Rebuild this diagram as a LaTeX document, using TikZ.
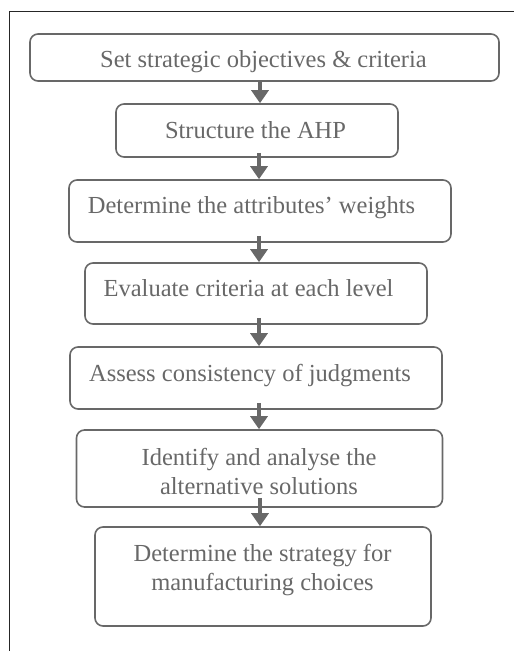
\documentclass[tikz,border=0pt]{standalone}
\usepackage{fontspec}
\setmainfont{Liberation Serif}
\usetikzlibrary{arrows.meta}
\definecolor{stepgray}{RGB}{104,104,104}
\begin{document}
\begin{tikzpicture}[x=1pt,y=-1pt,
  stepbox/.style={draw=stepgray, line width=1.6pt, rounded corners=8pt, inner sep=0pt},
  steptext/.style={text=stepgray, font=\fontsize{24.5}{29}\selectfont, align=center, anchor=base, inner sep=0pt},
  flow/.style={draw=stepgray, line width=3.8pt, -{Triangle[length=13pt,width=17pt]}, shorten >=0pt}
]
\useasboundingbox (0,0) rectangle (514,651);
% partial frame: top and left edges
\draw[line width=0.9pt, black!85] (9,651) -- (9,11) -- (514,11);

% step boxes
\node[stepbox, minimum width=469pt, minimum height=47pt] (b1) at (264.5,57.5) {};
\node[stepbox, minimum width=282pt, minimum height=53pt] (b2) at (257,130.5) {};
\node[stepbox, minimum width=382pt, minimum height=62pt] (b3) at (260,211) {};
\node[stepbox, minimum width=342pt, minimum height=61pt] (b4) at (256,293.5) {};
\node[stepbox, minimum width=372pt, minimum height=62pt] (b5) at (256,378) {};
\node[stepbox, minimum width=366pt, minimum height=77pt] (b6) at (259.5,468.5) {};
\node[stepbox, minimum width=336pt, minimum height=99pt] (b7) at (263,576.5) {};

% step labels (base anchor sits on the last line)
\node[steptext] (t1) at (263.5,67) {Set strategic objectives \& criteria};
\node[steptext] (t2) at (255.5,138) {Structure the AHP};
\node[steptext] (t3) at (251.5,213) {Determine the attributes’ weights};
\node[steptext] (t4) at (248.5,296) {Evaluate criteria at each level};
\node[steptext] (t5) at (250,381.5) {Assess consistency of judgments};
\node[steptext] (t6) at (259,494) {Identify and analyse the\\alternative solutions};
\node[steptext] (t7) at (262.5,590) {Determine the strategy for\\manufacturing choices};

% connectors
\draw[flow] (b1.south -| 260,0) ++(0,-1) -- (b2.north -| 260,0);
\draw[flow] (b2.south -| 259,0) ++(0,-5) -- (b3.north -| 259,0);
\draw[flow] (b3.south -| 259,0) ++(0,-7) -- (b4.north -| 259,0);
\draw[flow] (b4.south -| 259,0) ++(0,-7) -- (b5.north -| 259,0);
\draw[flow] (b5.south -| 259,0) ++(0,-7) -- (b6.north -| 259,0);
\draw[flow] (b6.south -| 260,0) ++(0,-10) -- (b7.north -| 260,0);
\end{tikzpicture}
\end{document}
